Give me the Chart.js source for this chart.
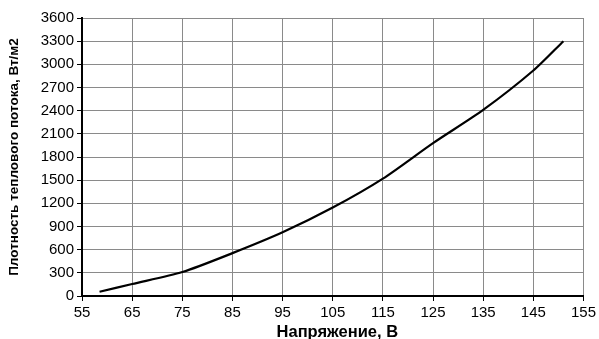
<!DOCTYPE html>
<html>
<head>
<meta charset="utf-8">
<script src="https://cdn.jsdelivr.net/npm/chart.js@4"></script>
<style>
  html, body { margin:0; padding:0; background:#fff; }
  #wrap { width:599px; height:339px; position:relative; }
</style>
</head>
<body>
<div id="wrap"><canvas id="c"></canvas></div>
<script>
// voltage (V) vs heat flux density (W/m2)
const voltage = [58.5, 65, 75, 85, 95, 105, 115, 125, 135, 145, 151];
const heatFlux = [55, 155, 310, 555, 825, 1145, 1520, 1980, 2410, 2920, 3300];
const xTitle = '\u00a0\u00a0Напряжение, В';
const yTitle = 'Плотность теплового потока, Вт/м2';

const FONT = 'Arial, "Liberation Sans", sans-serif';

new Chart(document.getElementById('c'), {
  type: 'line',
  data: {
    datasets: [{
      data: voltage.map((v, i) => ({ x: v, y: heatFlux[i] })),
      borderColor: '#000',
      borderWidth: 2.2,
      pointRadius: 0,
      fill: false,
      tension: 0.25
    }]
  },
  options: {
    responsive: true,
    maintainAspectRatio: false,
    animation: false,
    layout: { padding: { top: 18, right: 13, left: 0, bottom: 0 } },
    plugins: { legend: { display: false }, tooltip: { enabled: false } },
    scales: {
      x: {
        type: 'linear', min: 55, max: 155,
        ticks: { stepSize: 10, color: '#000', font: { family: FONT, size: 15 }, padding: 3, callback: v => String(v) },
        grid: { color: '#8a8a8a', lineWidth: 1, tickColor: '#000', tickLength: 5 },
        border: { color: '#000', width: 2 },
        title: { display: true, text: xTitle, color: '#000', font: { family: FONT, size: 16.5, weight: 'bold' }, padding: { top: 0, bottom: -3 } },
        afterFit: s => { s.height = 43; }
      },
      y: {
        min: 0, max: 3600,
        ticks: { stepSize: 300, color: '#000', font: { family: FONT, size: 15 }, padding: 3, callback: v => String(v) },
        grid: { color: '#8a8a8a', lineWidth: 1, tickColor: '#000', tickLength: 5 },
        border: { color: '#000', width: 2 },
        title: { display: true, text: yTitle, color: '#000', font: { family: FONT, size: 13.5, weight: 'bold' }, padding: { top: 6, bottom: 2 } },
        afterFit: s => { s.width = 82; }
      }
    }
  }
});
</script>
</body>
</html>
